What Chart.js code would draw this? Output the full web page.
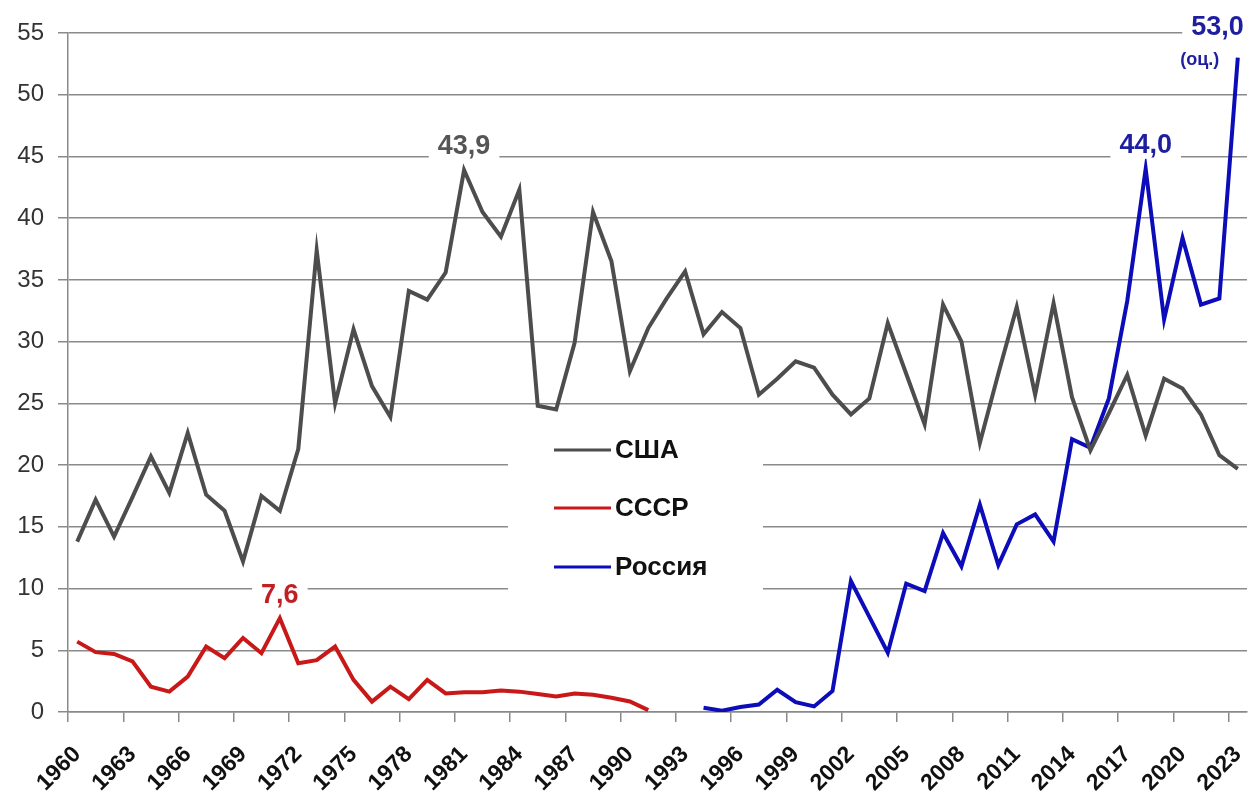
<!DOCTYPE html>
<html>
<head>
<meta charset="utf-8">
<script src="https://cdn.jsdelivr.net/npm/chart.js@4.4.1/dist/chart.umd.min.js"></script>
<style>
  html, body { margin: 0; padding: 0; background: #fff; }
</style>
</head>
<body>
<canvas id="chart" width="1252" height="795"></canvas>
<script>
const years = [1960, 1961, 1962, 1963, 1964, 1965, 1966, 1967, 1968, 1969,
  1970, 1971, 1972, 1973, 1974, 1975, 1976, 1977, 1978, 1979,
  1980, 1981, 1982, 1983, 1984, 1985, 1986, 1987, 1988, 1989,
  1990, 1991, 1992, 1993, 1994, 1995, 1996, 1997, 1998, 1999,
  2000, 2001, 2002, 2003, 2004, 2005, 2006, 2007, 2008, 2009,
  2010, 2011, 2012, 2013, 2014, 2015, 2016, 2017, 2018, 2019,
  2020, 2021, 2022, 2023];

// США, 1960-2023
const usa = [13.8, 17.2, 14.2, 17.4, 20.7, 17.75, 22.6, 17.6, 16.3, 12.2,
  17.5, 16.3, 21.3, 37.4, 25.0, 31.0, 26.4, 23.9, 34.1, 33.4,
  35.6, 43.9, 40.5, 38.5, 42.3, 24.8, 24.5, 29.9, 40.5, 36.5,
  27.6, 31.1, 33.5, 35.7, 30.6, 32.4, 31.1, 25.7, 27.0, 28.4,
  27.9, 25.7, 24.1, 25.4, 31.5, 27.4, 23.3, 33.0, 30.0, 21.8,
  27.4, 32.8, 25.7, 33.1, 25.5, 21.2, 24.2, 27.3, 22.4, 27.0,
  26.2, 24.1, 20.8, 19.7];

// СССР, 1960-1991
const ussrStart = 1960;
const ussr = [5.7, 4.85, 4.7, 4.1, 2.05, 1.65, 2.87, 5.3, 4.36, 6.0,
  4.76, 7.6, 3.95, 4.2, 5.3, 2.6, 0.84, 2.05, 1.05, 2.6,
  1.5, 1.6, 1.6, 1.75, 1.65, 1.45, 1.25, 1.5, 1.4, 1.15,
  0.85, 0.15];

// Россия, 1994-2023
const russiaStart = 1994;
const russia = [0.35, 0.1, 0.4, 0.6, 1.8, 0.8, 0.45, 1.7, 10.6, 7.7,
  4.8, 10.4, 9.8, 14.5, 11.8, 16.8, 11.9, 15.2, 16.0, 13.8,
  22.1, 21.4, 25.4, 33.3, 44.0, 31.8, 38.4, 33.0, 33.5, 53.0];

const yTicks = [0, 5, 10, 15, 20, 25, 30, 35, 40, 45, 50, 55];

// подписи значений: ряд, год, доп. текст
const notes = [
  { series: 0, year: 1981, extra: '' },
  { series: 1, year: 1971, extra: '' },
  { series: 2, year: 2018, extra: '' },
  { series: 2, year: 2023, extra: '(оц.)' }
];

const colors = ['#4d4d4d', '#c81818', '#0c0cb8'];
const noteColors = ['#555555', '#c02024', '#1e1ea0'];
const FONT = "'Liberation Sans', Arial, sans-serif";

function fill(values, start) {
  return years.map(y => {
    const i = y - start;
    return i >= 0 && i < values.length ? values[i] : null;
  });
}

const overlay = {
  id: 'overlay',
  beforeDatasetsDraw(chart) {
    const ctx = chart.ctx;
    ctx.save();
    ctx.fillStyle = '#fff';
    ctx.fillRect(508, 432, 255, 166);
    const rows = [450, 508, 567];
    chart.data.datasets.forEach((ds, i) => {
      ctx.strokeStyle = ds.borderColor;
      ctx.lineWidth = 3;
      ctx.beginPath();
      ctx.moveTo(554, rows[i]);
      ctx.lineTo(611, rows[i]);
      ctx.stroke();
      ctx.fillStyle = '#111';
      ctx.font = 'bold 26px ' + FONT;
      ctx.textBaseline = 'middle';
      ctx.textAlign = 'left';
      ctx.fillText(ds.label, 615, rows[i] + 1);
    });
    ctx.restore();
  },
  afterDatasetsDraw(chart) {
    const { ctx, scales: { x, y } } = chart;
    ctx.save();
    notes.forEach(n => {
      const idx = years.indexOf(n.year);
      const v = chart.data.datasets[n.series].data[idx];
      const text = v.toFixed(1).replace('.', ',');
      const px = x.getPixelForValue(idx);
      const py = y.getPixelForValue(v);
      ctx.font = 'bold 27px ' + FONT;
      const w = ctx.measureText(text).width;
      let cx = px, cy = py - 24;
      if (n.extra) { cx = px + 6 - w / 2; cy = py - 31; }
      ctx.fillStyle = '#fff';
      ctx.fillRect(cx - w / 2 - 9, cy - 14, w + 18, 28);
      ctx.fillStyle = noteColors[n.series];
      ctx.textAlign = 'center';
      ctx.textBaseline = 'middle';
      ctx.fillText(text, cx, cy + 1);
      if (n.extra) {
        ctx.font = 'bold 18px ' + FONT;
        ctx.fillText(n.extra, px - 38, py + 2);
      }
    });
    ctx.restore();
  }
};

new Chart(document.getElementById('chart'), {
  type: 'line',
  data: {
    labels: years,
    datasets: [
      { label: 'США', data: usa, borderColor: colors[0] },
      { label: 'СССР', data: fill(ussr, ussrStart), borderColor: colors[1] },
      { label: 'Россия', data: fill(russia, russiaStart), borderColor: colors[2] }
    ].map(d => Object.assign(d, { borderWidth: 4, pointRadius: 0, tension: 0, spanGaps: false }))
  },
  options: {
    responsive: false,
    animation: false,
    devicePixelRatio: 1,
    layout: { padding: { top: 33, right: 5, left: 0, bottom: 0 } },
    plugins: { legend: { display: false }, tooltip: { enabled: false } },
    scales: {
      x: {
        type: 'category',
        offset: true,
        grid: {
          offset: true,
          drawOnChartArea: false,
          drawTicks: true,
          tickLength: 10,
          lineWidth: 1.5,
          color: c => c.index % 3 === 0 ? '#8a8a8a' : 'rgba(0,0,0,0)'
        },
        border: { color: '#8a8a8a', width: 1.5 },
        ticks: {
          autoSkip: false,
          maxRotation: 45,
          minRotation: 45,
          padding: 19,
          color: '#111',
          font: { family: FONT, size: 23, weight: 'bold' },
          callback: (v, i) => i % 3 === 0 ? String(years[i]) : ''
        },
        afterFit: s => { s.height = 83; s.paddingLeft = 0; s.paddingRight = 0; }
      },
      y: {
        min: 0,
        max: 55,
        afterBuildTicks: s => { s.ticks = yTicks.map(v => ({ value: v })); },
        grid: { color: '#8a8a8a', lineWidth: 1.5, tickLength: 10 },
        border: { color: '#8a8a8a', width: 1.5 },
        ticks: {
          padding: 14,
          color: '#333',
          font: { family: FONT, size: 24 }
        },
        afterFit: s => { s.width = 68; }
      }
    }
  },
  plugins: [overlay]
});
</script>
</body>
</html>
